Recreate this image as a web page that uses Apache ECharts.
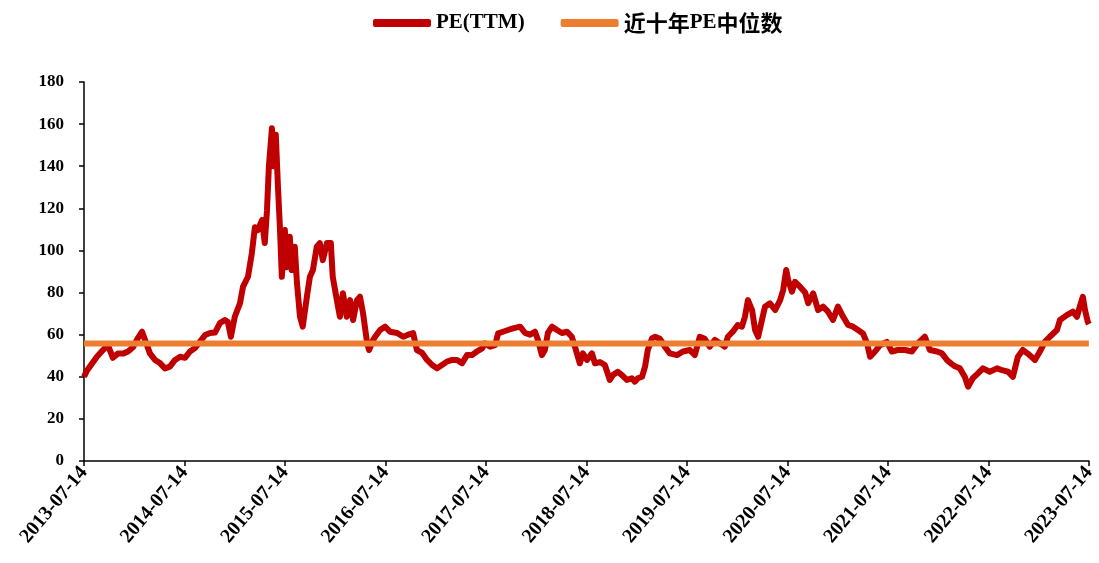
<!DOCTYPE html>
<html>
<head>
<meta charset="utf-8">
<script src="https://cdn.jsdelivr.net/npm/echarts@6/dist/echarts.min.js"></script>
<style>html,body{margin:0;padding:0;background:#fff}#c{width:1099px;height:563px}</style>
</head>
<body>
<div id="c"></div>
<script>
const startDate = '2013-07-14';
const endDate = '2023-07-14';
const tickLabels = ['2013-07-14','2014-07-14','2015-07-14','2016-07-14','2017-07-14','2018-07-14','2019-07-14','2020-07-14','2021-07-14','2022-07-14','2023-07-14'];
const peDates = [
'2013-07-14','2013-07-25','2013-08-05','2013-08-30','2013-09-21','2013-10-09','2013-10-27','2013-11-14','2013-12-03','2013-12-21',
'2014-01-08','2014-01-26','2014-02-10','2014-02-21','2014-03-11','2014-03-29','2014-04-16','2014-05-04','2014-05-22','2014-06-10','2014-06-28',
'2014-07-16','2014-08-03','2014-08-21','2014-09-08','2014-09-27','2014-10-15','2014-11-02','2014-11-20','2014-12-08','2014-12-19','2014-12-30',
'2015-01-13','2015-02-01','2015-02-12','2015-03-02','2015-03-16','2015-03-27','2015-04-07','2015-04-22','2015-05-02','2015-05-10','2015-05-17','2015-05-28','2015-06-04','2015-06-11','2015-06-19','2015-06-26','2015-07-03',
'2015-07-14','2015-07-21','2015-08-01','2015-08-08','2015-08-19','2015-08-27','2015-09-07','2015-09-17','2015-10-02','2015-10-13','2015-10-24','2015-11-07','2015-11-18','2015-11-29','2015-12-14','2015-12-28',
'2016-01-04','2016-01-19','2016-01-30','2016-02-10','2016-02-24','2016-03-07','2016-03-18','2016-04-01','2016-04-12','2016-04-23','2016-05-08','2016-05-15','2016-05-30','2016-06-06','2016-06-24','2016-07-12',
'2016-07-30','2016-08-25','2016-09-16','2016-10-04','2016-10-22','2016-11-05','2016-11-24','2016-12-12','2016-12-30',
'2017-01-17','2017-02-04','2017-02-22','2017-03-13','2017-03-31','2017-04-18','2017-05-06','2017-05-24','2017-06-11','2017-06-30','2017-07-10',
'2017-07-29','2017-08-16','2017-08-27','2017-09-14','2017-10-02','2017-10-20','2017-10-27','2017-11-15','2017-12-03','2017-12-21',
'2018-01-08','2018-01-19','2018-02-02','2018-02-13','2018-02-24','2018-03-11','2018-03-29','2018-04-16','2018-05-04','2018-05-22','2018-06-02','2018-06-20','2018-07-01',
'2018-07-16','2018-08-03','2018-08-14','2018-09-01','2018-09-19','2018-10-07','2018-10-18','2018-11-05','2018-11-20','2018-12-08','2018-12-26',
'2019-01-06','2019-01-17','2019-02-01','2019-02-12','2019-02-22','2019-03-09','2019-03-20','2019-04-07','2019-04-18','2019-04-25','2019-05-13','2019-06-08','2019-06-30',
'2019-07-25','2019-08-12','2019-08-30','2019-09-17','2019-10-05','2019-10-24','2019-11-11','2019-11-29','2019-12-10','2019-12-28',
'2020-01-15','2020-01-30','2020-02-10','2020-02-21','2020-03-07','2020-03-18','2020-03-29','2020-04-12','2020-04-23','2020-05-11','2020-05-30','2020-06-17','2020-06-28','2020-07-09',
'2020-07-16','2020-07-30','2020-08-10','2020-08-28','2020-09-16','2020-09-27','2020-10-15','2020-11-02','2020-11-20','2020-12-08','2020-12-26',
'2021-01-13','2021-02-01','2021-02-19','2021-03-09','2021-03-27','2021-04-14','2021-04-29','2021-05-10','2021-05-28','2021-06-15','2021-07-10',
'2021-07-28','2021-08-19','2021-09-14','2021-10-09','2021-10-31','2021-11-25','2021-12-13',
'2022-01-08','2022-01-26','2022-02-13','2022-03-03','2022-03-14','2022-04-01','2022-04-19','2022-05-01','2022-05-18','2022-06-06','2022-06-24',
'2022-07-19','2022-08-14','2022-09-05','2022-09-23','2022-10-11','2022-10-29','2022-11-16','2022-12-04','2022-12-30',
'2023-01-17','2023-02-04','2023-02-22','2023-03-20','2023-03-31','2023-04-25','2023-05-17','2023-06-01','2023-06-11','2023-06-22','2023-06-30','2023-07-10','2023-07-14'
];
const peValues = [
40,43,45,49.5,52.7,55,49,51,51,52,
54,58.4,61.4,57.5,51,48,46.5,44,44.8,48,49.5,
49,52,53.6,56.6,59.8,60.8,61,65.5,67,66,59,
68.5,75,82.8,87.5,98.7,111,109.7,114.4,103.5,119,140,158,140,155,130,111,87.5,
109.7,92,106.5,90.7,101.8,84.5,68.5,63.8,78,87.5,90.7,101.8,103.5,95.4,103.5,103.5,
87.5,76.4,68.5,79.7,68.5,76.4,67,76.4,78,70.3,56,52.7,57.5,59,62.2,63.8,
61.4,60.8,59,60,60.8,52.7,51.3,48,45.6,
44,45.6,47.2,48,48,46.4,50.3,50.3,52,53.5,55.9,
54.3,55,60.6,61.4,62.2,63,62.2,63.8,60.8,60,
61.4,57.5,50.3,52.7,60.8,63.8,62.2,60.8,61.4,59,54.3,46.4,51.1,
48,51.1,46.4,47,45.6,38.5,40.8,42.4,40.8,38.5,39.3,
37.7,39.3,40,44.8,52.7,58.2,59,58,55.9,54.3,51.1,50.3,52,
52.7,50.3,59,58,54.3,57.5,55.9,54.3,59,61.4,
64.6,63.8,68.5,76.4,71.7,62.2,59,67,73.3,74.9,71.7,76.4,81.2,90.7,
86,80.4,85.1,82.8,80,75,79.6,71.7,73.3,70.9,67,
73.3,68.5,64.6,63.8,62.2,60.6,55.9,49.5,52,55,56.6,
52,52.7,52.7,52,55.9,59,52.7,
52,51.1,48,46,45,44,40,35.3,39.3,41.6,44,
42.4,44,43,42.4,40,49.5,52.7,51,48,
52,56.6,59,62.2,67,69.3,70.9,68.5,73.3,78,71.7,66.1,65
];
const medianDates = [startDate, endDate];
const medianValues = [55.8, 55.8];

const t0 = Date.parse(startDate);
const YEAR = 365.25 * 86400000;
const toX = d => (Date.parse(d) - t0) / YEAR;

const font = "'Liberation Serif','Times New Roman','Noto Sans CJK SC',serif";
const chart = echarts.init(document.getElementById('c'));
chart.setOption({
  animation: false,
  backgroundColor: '#fff',
  legend: {
    top: 7, left: 368, itemWidth: 58, itemHeight: 8, itemGap: 36,
    textStyle: { fontFamily: font, fontWeight: 'bold', fontSize: 21, color: '#000',
      rich: { c: { fontFamily: "'Noto Sans CJK SC',sans-serif", fontWeight: 'bold', fontSize: 22, color: '#000' },
              l: { fontFamily: font, fontWeight: 'bold', fontSize: 21, color: '#000' } } },
    formatter: n => n === 'PE(TTM)' ? '{l|' + n + '}' : n.replace(/([^A-Za-z]+)|([A-Za-z]+)/g, (m, a, b) => a ? '{c|' + a + '}' : '{l|' + b + '}'),
    data: [{ name: 'PE(TTM)', icon: 'roundRect' }, { name: '近十年PE中位数', icon: 'roundRect' }]
  },
  grid: { left: 84, right: 10, top: 82, bottom: 102 },
  xAxis: {
    type: 'value', min: 0, max: 10, interval: 1,
    splitLine: { show: false },
    axisLine: { lineStyle: { color: '#000', width: 1.5 } },
    axisTick: { show: true, length: 5, lineStyle: { color: '#000', width: 1.5 } },
    axisLabel: {
      rotate: 50, margin: 8, color: '#000', fontFamily: font, fontWeight: 'bold', fontSize: 20,
      showMinLabel: true, showMaxLabel: true,
      formatter: v => tickLabels[Math.round(v)] || ''
    }
  },
  yAxis: {
    type: 'value', min: 0, max: 180, interval: 20,
    splitLine: { show: false },
    axisLine: { show: true, lineStyle: { color: '#000', width: 1.5 } },
    axisTick: { show: true, length: 5, lineStyle: { color: '#000', width: 1.5 } },
    axisLabel: { margin: 20, color: '#000', fontFamily: font, fontWeight: 'bold', fontSize: 17 }
  },
  series: [
    {
      name: 'PE(TTM)', type: 'line', showSymbol: false, symbol: 'none',
      lineStyle: { color: '#C00000', width: 6, join: 'round' }, itemStyle: { color: '#C00000' },
      data: peDates.map((d, i) => [toX(d), peValues[i]])
    },
    {
      name: '近十年PE中位数', type: 'line', showSymbol: false, symbol: 'none', z: 3,
      lineStyle: { color: '#ED7D31', width: 6 }, itemStyle: { color: '#ED7D31' },
      data: medianDates.map((d, i) => [toX(d), medianValues[i]])
    }
  ]
});
</script>
</body>
</html>
